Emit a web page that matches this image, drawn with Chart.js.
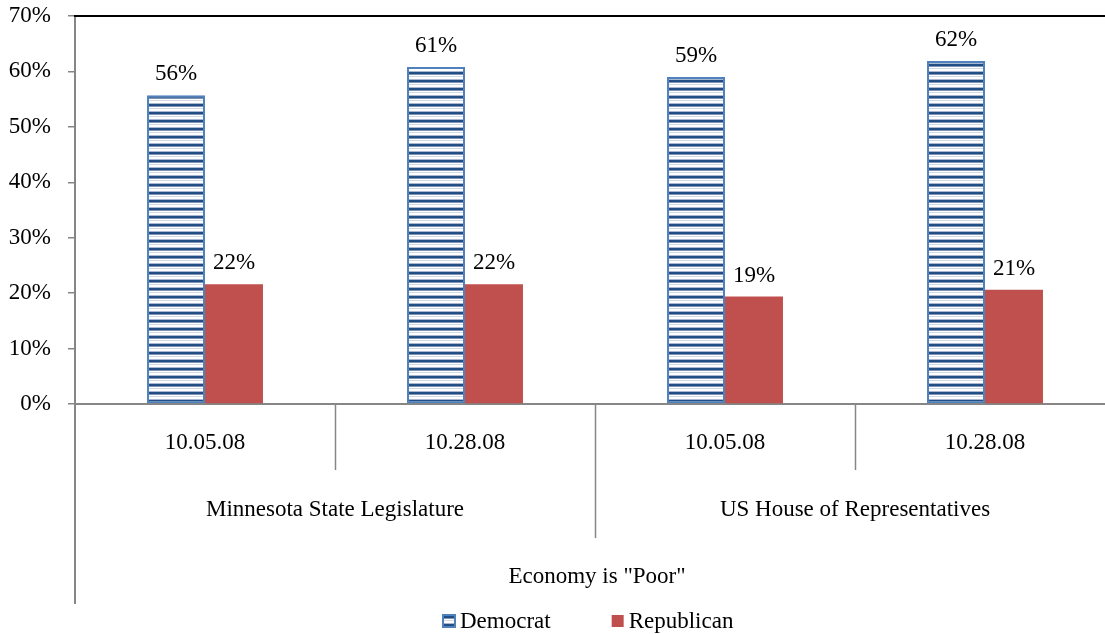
<!DOCTYPE html>
<html><head><meta charset="utf-8">
<script src="https://cdn.jsdelivr.net/npm/chart.js@4.4.0/dist/chart.umd.min.js"></script>
<style>
html,body{margin:0;padding:0;overflow:hidden;background:#fff;width:1105px;height:634px}
#wrap{width:1105px;height:634px;overflow:hidden;position:relative}
canvas{position:absolute;left:0;top:0}
</style></head>
<body><div id="wrap"><canvas id="c" width="1122" height="634"></canvas></div>
<script>
const dates = ['10.05.08','10.28.08','10.05.08','10.28.08'];
const groups = ['Minnesota State Legislature','US House of Representatives'];
const topLabel = 'Economy is "Poor"';
const seriesNames = ['Democrat','Republican'];
const democrat = [55.7, 60.8, 59.0, 61.9];
const republican = [21.6, 21.6, 19.4, 20.6];
const yMin = 0, yMax = 70, yStep = 10;

const FONT = 'Liberation Serif';
const FS = 23;
const GRAY = '#868686';
const canvas = document.getElementById('c');
const ctx = canvas.getContext('2d');

function makePattern(){
  const p = document.createElement('canvas'); p.width = 8; p.height = 8;
  const g = p.getContext('2d');
  const rows = ['#234E83','#234E83','#7C93B8','#ffffff','#D3DAE6','#ffffff','#ffffff','#A8B7CF'];
  rows.forEach((col, r) => { g.fillStyle = col; g.fillRect(0, r, 8, 1); });
  return ctx.createPattern(p,'repeat');
}
const demPattern = makePattern();

const extras = {
  id: 'extras',
  afterDatasetsDraw(chart){
    const c = chart.ctx;
    c.save();
    c.font = FS + 'px "' + FONT + '"';
    c.fillStyle = '#000';
    c.textAlign = 'center';
    c.textBaseline = 'middle';
    chart.data.datasets.forEach((ds, di) => {
      chart.getDatasetMeta(di).data.forEach((bar, i) => {
        c.fillText(Math.round(ds.data[i]) + '%', bar.x, bar.y - 21);
      });
    });
    c.restore();
  },
  afterDraw(chart){
    const c = chart.ctx, a = chart.chartArea, x = chart.scales.x;
    c.save();
    c.strokeStyle = '#000'; c.lineWidth = 2;
    c.beginPath(); c.moveTo(a.left - 1, a.top); c.lineTo(a.right, a.top); c.stroke();
    c.strokeStyle = GRAY; c.lineWidth = 1.5;
    const per = dates.length / groups.length;
    for (let i = 0; i < dates.length - 1; i++){
      const xb = Math.round((x.getPixelForValue(i) + x.getPixelForValue(i+1)) / 2) + 0.5;
      const end = a.bottom + (((i + 1) % per === 0) ? 134 : 66);
      c.beginPath(); c.moveTo(xb, a.bottom); c.lineTo(xb, end); c.stroke();
    }
    c.lineWidth = 2;
    c.beginPath(); c.moveTo(a.left, a.bottom); c.lineTo(a.left, a.bottom + 200); c.stroke();
    c.font = FS + 'px "' + FONT + '"';
    c.fillStyle = '#000'; c.textAlign = 'center'; c.textBaseline = 'middle';
    groups.forEach((g, gi) => {
      const x0 = x.getPixelForValue(gi*per) - x.width/dates.length/2;
      const x1 = x.getPixelForValue(gi*per + per - 1) + x.width/dates.length/2;
      c.fillText(g, (x0 + x1)/2, a.bottom + 106);
    });
    c.fillText(topLabel, (a.left + a.right)/2 + 2, a.bottom + 173);
    const colors = [demPattern, '#C0504D'];
    const widths = seriesNames.map(n => c.measureText(n).width);
    const box = 12, gap = 5, spacing = 61;
    const total = widths.reduce((s,w)=>s+w,0) + 2*(box+gap) + spacing;
    let lx = Math.round(588 - total/2);
    const ly = a.bottom + 217;
    c.textAlign = 'left';
    seriesNames.forEach((n, i) => {
      c.fillStyle = colors[i];
      c.fillRect(lx, ly - 6, box, box);
      if (i === 0){ c.strokeStyle = '#4F81BD'; c.lineWidth = 2; c.strokeRect(lx, ly - 6, box, box); }
      c.fillStyle = '#000';
      c.fillText(n, lx + box + gap, ly + 1);
      lx += box + gap + widths[i] + spacing;
    });
    c.restore();
  }
};

new Chart(ctx, {
  type: 'bar',
  data: {
    labels: dates,
    datasets: [
      { label: seriesNames[0], data: democrat, backgroundColor: demPattern,
        borderColor: '#4F81BD', borderWidth: 2, borderSkipped: false },
      { label: seriesNames[1], data: republican, backgroundColor: '#C0504D', borderWidth: 0 }
    ]
  },
  options: {
    responsive: false,
    animation: false,
    categoryPercentage: 0.446,
    barPercentage: 1.0,
    layout: { padding: { top: 16, right: 7, left: 0, bottom: 0 } },
    plugins: { legend: { display: false }, tooltip: { enabled: false } },
    scales: {
      x: {
        z: 1,
        grid: { display: false, drawTicks: false },
        border: { color: GRAY, width: 2 },
        ticks: { color: '#000', font: { family: FONT, size: FS }, padding: 25, maxRotation: 0, autoSkip: false },
        afterFit(s){ s.height = 230; }
      },
      y: {
        min: yMin, max: yMax,
        grid: { drawOnChartArea: false, drawTicks: true, tickLength: 7, color: GRAY, lineWidth: 1.5 },
        border: { color: GRAY, width: 2 },
        ticks: { stepSize: yStep, color: '#000', font: { family: FONT, size: FS }, padding: 17,
                 callback: v => v + '%' },
        afterFit(s){ s.width = 75; s.paddingTop = 14; s.paddingBottom = 14; }
      }
    }
  },
  plugins: [extras]
});
</script>
</body></html>
